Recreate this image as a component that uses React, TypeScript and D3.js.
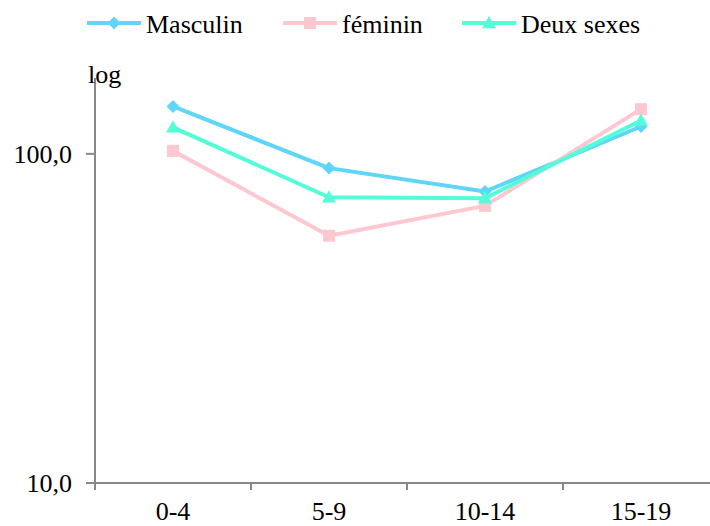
import React, { useEffect, useRef } from "react";
import * as d3 from "d3";

const categories = ["0-4", "5-9", "10-14", "15-19"];
const seriesNames = ["Masculin", "féminin", "Deux sexes"];
const masculin = [139.3, 90.5, 76.8, 121.1];
const feminin = [102.1, 56.4, 69.5, 136.7];
const deuxSexes = [120.4, 73.8, 73.3, 126.3];
const yTickValues = [10, 100];
const yTickLabels = ["10,0", "100,0"];
const yMin = 10;
const yMax = 170;

const colors = ["#5fd6f7", "#ffc8d0", "#52fdd7"];
const markers = ["diamond", "square", "triangle"];

const W = 710;
const H = 526;
const SERIF = '"Liberation Serif", "Times New Roman", Tinos';

function T(props: any) {
  const { children, ...rest } = props;
  return (
    <text {...rest} className="serif-t" fill="#000">
      {children}
    </text>
  );
}

function Marker({ type, x, y, color }: { type: string; x: number; y: number; color: string }) {
  if (type === "diamond") {
    const s = 6.5;
    return <path d={`M${x},${y - s}L${x + s},${y}L${x},${y + s}L${x - s},${y}Z`} fill={color} />;
  }
  if (type === "square") {
    const s = 6;
    return <rect x={x - s} y={y - s} width={2 * s} height={2 * s} fill={color} />;
  }
  const s = 7;
  return <path d={`M${x},${y - s}L${x + s},${y + s * 0.75}L${x - s},${y + s * 0.75}Z`} fill={color} />;
}

export default function App() {
  const ref = useRef<SVGSVGElement>(null);
  useEffect(() => {
    if (!ref.current) return;
    d3.select(ref.current)
      .selectAll("text")
      .style("font-family", SERIF, "important")
      .style("font-size", "26px", "important");
  }, []);

  const left = 95;
  const right = 719;
  const top = 78;
  const bottom = 483;
  const x = d3.scaleBand<string>().domain(categories).range([left, right]);
  const y = d3.scaleLog().domain([yMin, yMax]).range([bottom, top]);
  const data = [masculin, feminin, deuxSexes];
  const line = d3
    .line<number>()
    .x((_, i) => (x(categories[i]) as number) + x.bandwidth() / 2)
    .y((d) => y(d));

  const legendX = [87, 283, 462];

  return (
    <svg ref={ref} width={W} height={H} style={{ display: "block", position: "absolute", left: 0, top: 0 }}>
      <style>{`.serif-t { font-family: ${SERIF} !important; font-size: 26px !important; }`}</style>
      <rect width={W} height={H} fill="#fff" />
      {seriesNames.map((name, i) => (
        <g key={name}>
          <line x1={legendX[i]} x2={legendX[i] + 54} y1={23} y2={23} stroke={colors[i]} strokeWidth={4} />
          <Marker type={markers[i]} x={legendX[i] + 27} y={23} color={colors[i]} />
          <T x={legendX[i] + 59} y={32.5}>{name}</T>
        </g>
      ))}
      <line x1={left} x2={left} y1={top} y2={bottom} stroke="#888" strokeWidth={2} />
      <line x1={left} x2={W} y1={bottom} y2={bottom} stroke="#888" strokeWidth={2} />
      {yTickValues.map((v, i) => (
        <g key={v}>
          <line x1={left - 9} x2={left} y1={y(v)} y2={y(v)} stroke="#888" strokeWidth={2} />
          <T x={72} y={y(v) + 9} textAnchor="end">{yTickLabels[i]}</T>
        </g>
      ))}
      {categories.map((c) => (
        <line
          key={"t" + c}
          x1={x(c) as number}
          x2={x(c) as number}
          y1={bottom}
          y2={bottom + 7}
          stroke="#888"
          strokeWidth={2}
        />
      ))}
      <line x1={right} x2={right} y1={bottom} y2={bottom + 7} stroke="#888" strokeWidth={2} />
      {categories.map((c) => (
        <T key={c} x={(x(c) as number) + x.bandwidth() / 2} y={520} textAnchor="middle">
          {c}
        </T>
      ))}
      <T x={88} y={83}>log</T>
      {data.map((vals, si) => (
        <g key={seriesNames[si]}>
          <path d={line(vals) as string} fill="none" stroke={colors[si]} strokeWidth={4} strokeLinejoin="round" />
          {vals.map((v, i) => (
            <Marker
              key={i}
              type={markers[si]}
              x={(x(categories[i]) as number) + x.bandwidth() / 2}
              y={y(v)}
              color={colors[si]}
            />
          ))}
        </g>
      ))}
    </svg>
  );
}
